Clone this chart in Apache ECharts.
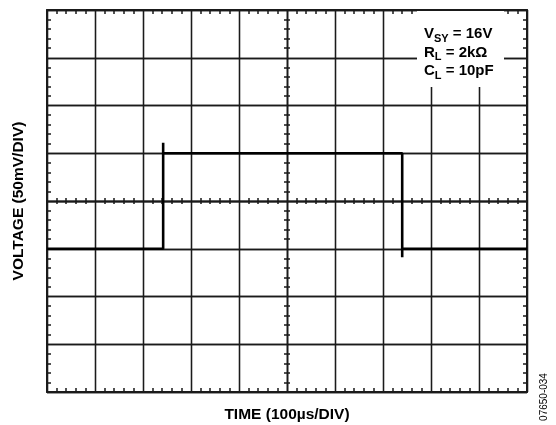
<!DOCTYPE html>
<html><head><meta charset="utf-8">
<script src="https://cdn.jsdelivr.net/npm/echarts@6/dist/echarts.min.js"></script>
<style>html,body{margin:0;padding:0;background:#fff}#c{width:556px;height:425px}</style>
</head><body><div id="c"></div>
<script>
// Signal trace, in divisions (x: 0..10 div of 100µs, y: -4..4 div of 50mV)
const traceX = [0, 2.42, 2.42, 2.42, 7.40, 7.40, 7.40, 10];
const traceY = [-1, -1, 1.22, 1, 1, -1.18, -1, -1];
const xTitle = 'TIME (100µs/DIV)';
const yTitle = 'VOLTAGE (50mV/DIV)';
const figId = '07650-034';

const gridRect = {left: 47, top: 10, right: 29, bottom: 33, outerBoundsMode: 'none', containLabel: false};
const ink = '#1a1a1a';
const FONT = '"Liberation Sans", Arial, sans-serif';

function borderX(pos, extra) {
  return Object.assign({
    type: 'value', gridIndex: 0, position: pos, min: 0, max: 10, interval: 1,
    axisLine: {show: true, onZero: false, lineStyle: {color: ink, width: 2}},
    axisTick: {show: false, inside: true},
    minorTick: {show: true, splitNumber: 5, length: 4, lineStyle: {color: ink, width: 1.5}},
    axisLabel: {show: false},
    splitLine: {show: true, lineStyle: {color: ink, width: 1.3}},
  }, extra || {});
}
function borderY(pos, extra) {
  return Object.assign({
    type: 'value', gridIndex: 0, position: pos, min: -4, max: 4, interval: 1,
    axisLine: {show: true, onZero: false, lineStyle: {color: ink, width: 2}},
    axisTick: {show: false, inside: true},
    minorTick: {show: true, splitNumber: 5, length: 4, lineStyle: {color: ink, width: 1.5}},
    axisLabel: {show: false},
    splitLine: {show: true, lineStyle: {color: ink, width: 1.3}},
  }, extra || {});
}
function crossX(g, inside) {
  return {
    type: 'value', gridIndex: g, position: 'bottom', min: -5, max: 5, interval: 1,
    axisLine: {show: true, onZero: true, lineStyle: {color: ink, width: 1.3}},
    axisTick: {show: false, inside: inside},
    minorTick: {show: true, splitNumber: 5, length: 3, lineStyle: {color: ink, width: 1.5}},
    axisLabel: {show: false}, splitLine: {show: false}
  };
}
function crossY(g, inside) {
  return {
    type: 'value', gridIndex: g, position: 'left', min: -4, max: 4, interval: 1,
    axisLine: {show: true, onZero: true, lineStyle: {color: ink, width: 1.3}},
    axisTick: {show: false, inside: inside},
    minorTick: {show: true, splitNumber: 5, length: 3, lineStyle: {color: ink, width: 1.5}},
    axisLabel: {show: false}, splitLine: {show: false}
  };
}

const data = traceX.map((x, i) => [x, traceY[i]]);
const titleStyle = {fontFamily: FONT, fontWeight: 'bold', fontSize: 15.5, color: '#000'};

const chart = echarts.init(document.getElementById('c'), null, {renderer: 'canvas'});
chart.setOption({
  backgroundColor: '#fff',
  animation: false,
  textStyle: {fontFamily: FONT},
  grid: [
    Object.assign({}, gridRect),
    Object.assign({}, gridRect),
    Object.assign({}, gridRect)
  ],
  xAxis: [
    borderX('bottom', {name: xTitle, nameLocation: 'middle', nameGap: 15, nameTextStyle: titleStyle}),
    borderX('top'),
    crossX(1, true), crossX(2, false)
  ],
  yAxis: [
    borderY('left', {name: yTitle, nameLocation: 'middle', nameGap: 20, nameRotate: 90, nameTextStyle: titleStyle}),
    borderY('right'),
    crossY(1, true), crossY(2, false)
  ],
  series: [{
    type: 'line', xAxisIndex: 0, yAxisIndex: 0, data: data,
    symbol: 'none', lineStyle: {color: '#000', width: 2.6}, z: 10
  }],
  graphic: [
    {
      type: 'rect', z: 19, shape: {x: 417, y: 11, width: 87, height: 76},
      style: {fill: '#fff'}
    },
    {
      type: 'text', left: 424, top: 24, z: 20,
      style: {
        text: '{b|V}{s|SY}{b| = 16V}\n{b|R}{s|L}{b| = 2kΩ}\n{b|C}{s|L}{b| = 10pF}',
        rich: {
          b: {fontFamily: FONT, fontWeight: 'bold', fontSize: 15, lineHeight: 18.5, fill: '#000', verticalAlign: 'middle'},
          s: {fontFamily: FONT, fontWeight: 'bold', fontSize: 11, lineHeight: 9, padding: [9, 0, 0, 0], fill: '#000', verticalAlign: 'middle'}
        }
      }
    },
    {
      type: 'text', x: 544, y: 397, rotation: Math.PI / 2, z: 20,
      style: {text: figId, fontFamily: FONT, fontSize: 10, fill: '#000', align: 'center', verticalAlign: 'middle'}
    }
  ]
});
</script></body></html>
